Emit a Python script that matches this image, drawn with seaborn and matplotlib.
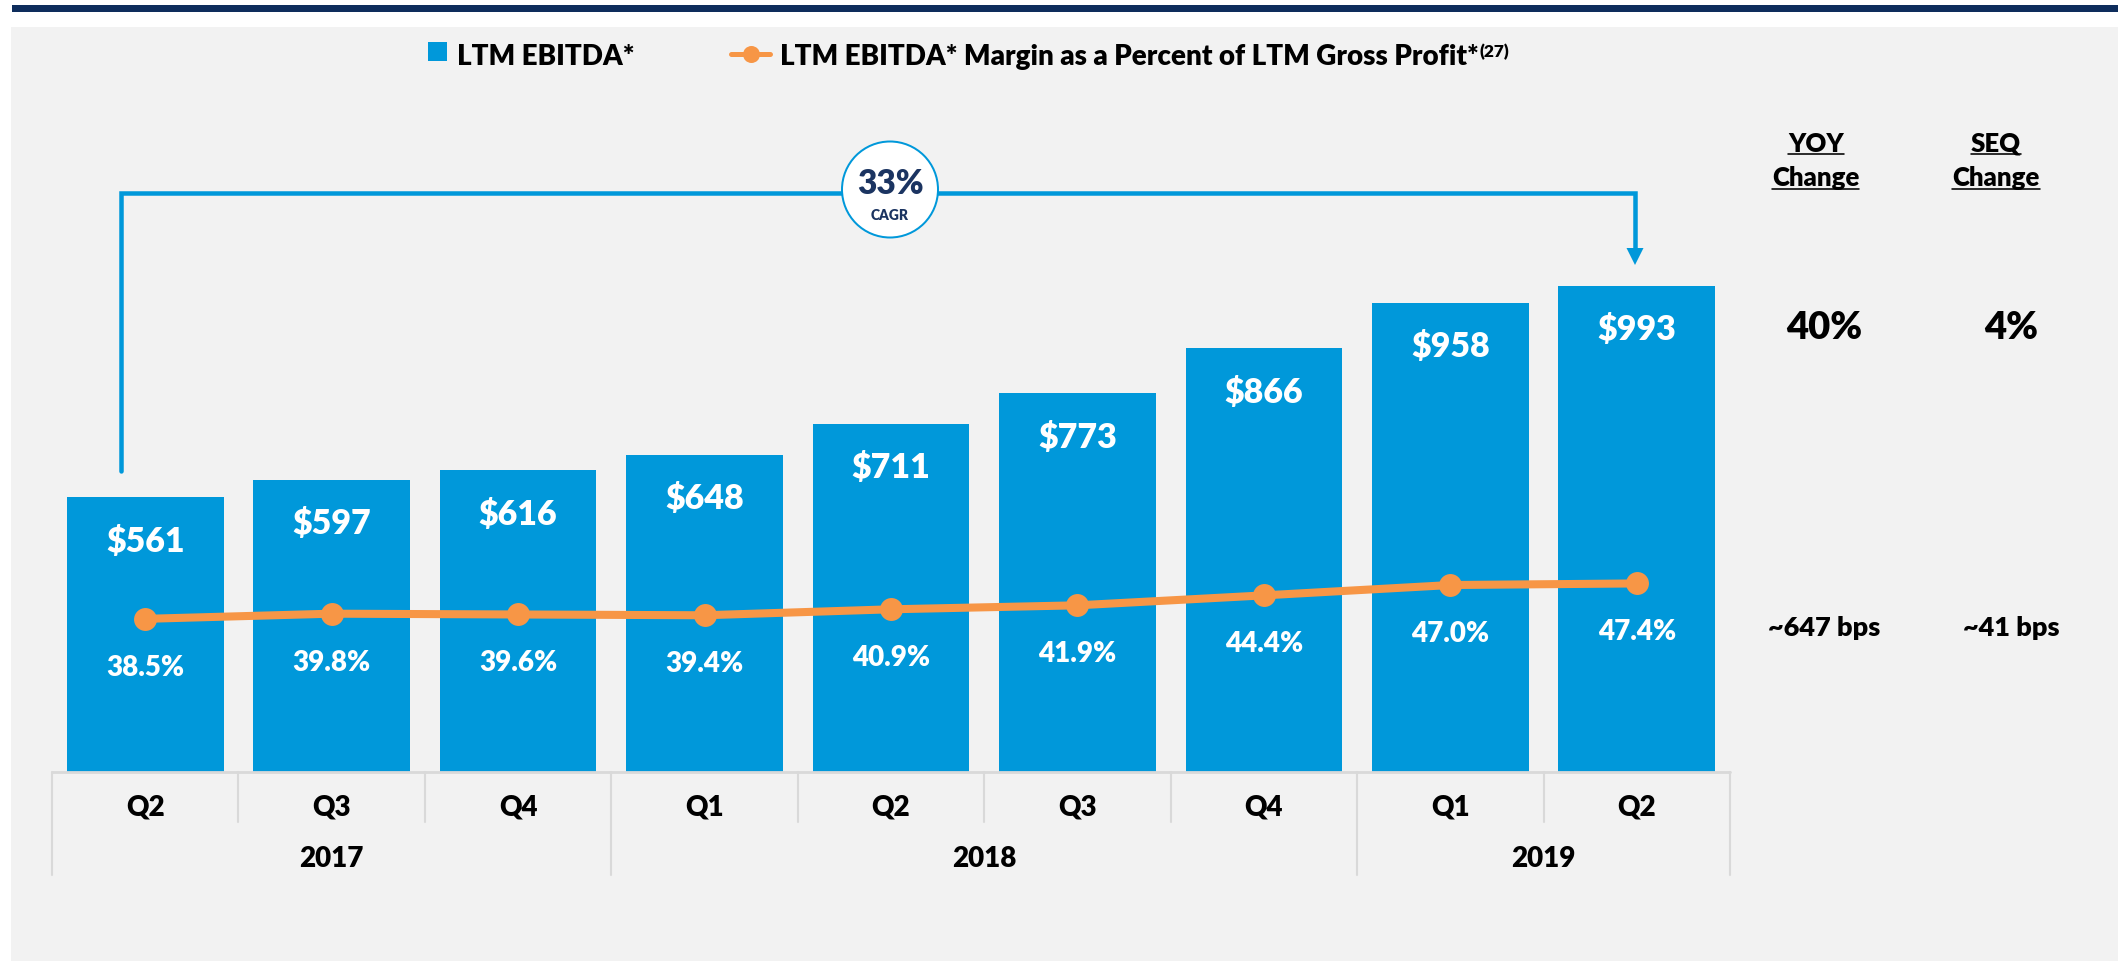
import matplotlib
matplotlib.use("Agg")
import matplotlib.pyplot as plt
import matplotlib.patches as mpatches
from matplotlib.transforms import Affine2D, blended_transform_factory
from matplotlib.lines import Line2D
import seaborn as sns
import pandas as pd

# ---------------- data ----------------
quarters = ["Q2", "Q3", "Q4", "Q1", "Q2", "Q3", "Q4", "Q1", "Q2"]
years = ["2017", "2017", "2017", "2018", "2018", "2018", "2018", "2019", "2019"]
ltm_ebitda = [561, 597, 616, 648, 711, 773, 866, 958, 993]
ebitda_margin = [38.5, 39.8, 39.6, 39.4, 40.9, 41.9, 44.4, 47.0, 47.4]
legend_labels = ["LTM EBITDA*", "LTM EBITDA* Margin as a Percent of LTM Gross Profit*"]
legend_sup = "(27)"
cagr_text = ["33%", "CAGR"]
change_headers = [("YOY", "Change"), ("SEQ", "Change")]
change_ebitda = ["40%", "4%"]
change_margin = ["~647 bps", "~41 bps"]

periods = [f"{q} {y}" for q, y in zip(quarters, years)]
df = pd.DataFrame({"period": periods, "quarter": quarters, "year": years,
                   "ebitda": ltm_ebitda, "margin": ebitda_margin})

# ---------------- style ----------------
sns.set_style("white")
plt.rcParams["font.family"] = ["Lato", "DejaVu Sans"]
FW = "heavy"
plt.rcParams["font.weight"] = FW

BLUE = "#0098da"
ORANGE = "#f79646"
NAVY = "#1b3461"
GRID = "#d9d9d9"
PANEL = "#f2f2f2"

W, H, DPI = 2118, 962, 100
fig = plt.figure(figsize=(W / DPI, H / DPI), dpi=DPI, facecolor="white")
PX = Affine2D().scale(1 / W, -1 / H).translate(0, 1) + fig.transFigure
PT = 72 / DPI  # points per pixel

# background
fig.add_artist(mpatches.Rectangle((11, 28), W - 11, H - 28, transform=PX,
                                  facecolor=PANEL, edgecolor="none", zorder=-10))
fig.add_artist(mpatches.Rectangle((12, 6), W - 12, 6.5, transform=PX,
                                  facecolor="#0e2d5c", edgecolor="none", zorder=-9))

# axes geometry (pixel layout)
AX_L, AX_R = 52, 1730
BASE = 773
PX_PER_USD = 0.4898
PX_PER_PCT = 3.978

ax = fig.add_axes([AX_L / W, 0, (AX_R - AX_L) / W, 1])
ax.set_facecolor("none")
sns.barplot(data=df, x="period", y="ebitda", order=periods, ax=ax, color=BLUE,
            saturation=1, width=0.84, linewidth=0, edgecolor="none")
ax2 = ax.twinx()
ax2.set_facecolor("none")
sns.pointplot(data=df, x="period", y="margin", order=periods, ax=ax2, color=ORANGE,
              markers="o", linestyles="-", errorbar=None, markersize=16.5,
              linewidth=5.8, markeredgewidth=0)

n = len(periods)
for a in (ax, ax2):
    a.set_xlim(-0.5, n - 0.5)
    a.set_axis_off()
ax.set_ylim(-(H - BASE) / PX_PER_USD, BASE / PX_PER_USD)
ax2.set_ylim(-(H - BASE) / PX_PER_PCT, BASE / PX_PER_PCT)

# value labels
for i, v in enumerate(df["ebitda"]):
    ax.annotate(f"${v:,.0f}", (i, v), xytext=(0, -53.7 * PT), textcoords="offset points",
                ha="center", va="baseline", color="white", fontsize=24.5,
                fontweight=FW, zorder=5)
for i, m in enumerate(df["margin"]):
    ax2.annotate(f"{m:.1f}%", (i, m), xytext=(0, -56 * PT), textcoords="offset points",
                 ha="center", va="baseline", color="white", fontsize=20,
                 fontweight=FW, zorder=5)

# two-level category axis
XB = blended_transform_factory(ax.transData, PX)
ax.add_line(Line2D([-0.5, n - 0.5], [BASE, BASE], transform=XB, color=GRID, lw=2.8 * PT,
                   clip_on=False))
for i in range(n + 1):
    long = i == 0 or i == n or years[i] != years[i - 1]
    ax.add_line(Line2D([i - 0.5, i - 0.5], [BASE, 876 if long else 823], transform=XB,
                       color=GRID, lw=1.5, clip_on=False))
for i, q in enumerate(quarters):
    ax.text(i, 816, q, transform=XB, ha="center", va="baseline", fontsize=20,
            fontweight=FW, color="black")
groups = []
for i, y in enumerate(years):
    if groups and groups[-1][0] == y:
        groups[-1][2] = i
    else:
        groups.append([y, i, i])
for y, s, e in groups:
    ax.text((s + e) / 2, 866.7, y, transform=XB, ha="center", va="baseline", fontsize=20,
            fontweight=FW, color="black")

# legend
fig.add_artist(mpatches.Rectangle((428, 43), 19, 19, transform=PX, facecolor=BLUE,
                                  edgecolor="none"))
fig.text(457, 65, legend_labels[0], transform=PX, ha="left", va="baseline", fontsize=20,
         fontweight=FW, color="black")
fig.add_artist(Line2D([731, 770], [55, 55], transform=PX, color=ORANGE, lw=5 * PT))
fig.add_artist(Line2D([750.5], [55], transform=PX, color=ORANGE, marker="o",
                      markersize=17 * PT, markeredgewidth=0, lw=0))
leg2 = fig.text(780, 65, legend_labels[1], transform=PX, ha="left", va="baseline",
                fontsize=20, fontweight=FW, color="black")

# CAGR bracket
lw_b = 4.5 * PT
fig.add_artist(Line2D([121, 121, 1635, 1635], [472, 194, 194, 252], transform=PX,
                      color=BLUE, lw=lw_b, solid_joinstyle="miter", zorder=5))
fig.add_artist(mpatches.Polygon([(1626.5, 249), (1643.5, 249), (1635, 266)], closed=True,
                                transform=PX, facecolor=BLUE, edgecolor="none", zorder=5))
fig.add_artist(mpatches.Circle((890, 190.5), 48, transform=PX, facecolor="white",
                               edgecolor=BLUE, lw=2 * PT, zorder=6))
fig.text(890, 194, cagr_text[0], transform=PX, ha="center", va="baseline", fontsize=24,
         fontweight=FW, color=NAVY, zorder=7)
fig.text(890, 220, cagr_text[1], transform=PX, ha="center", va="baseline", fontsize=10,
         fontweight=FW, color=NAVY, zorder=7)

# right-side change table
head_x = [1815.7, 1996]
val_x = [1824, 2011]
head_texts = []
for (h1, h2), hx in zip(change_headers, head_x):
    t1 = fig.text(hx, 151.7, h1, transform=PX, ha="center", va="baseline", fontsize=18.5,
                  fontweight=FW, color="black")
    t2 = fig.text(hx, 185.5, h2, transform=PX, ha="center", va="baseline", fontsize=18.5,
                  fontweight=FW, color="black")
    head_texts.append((t1, 154.5))
    head_texts.append((t2, 190))
for v, vx in zip(change_ebitda, val_x):
    fig.text(vx, 339.3, v, transform=PX, ha="center", va="baseline", fontsize=27.5,
             fontweight=FW, color="black")
for v, vx in zip(change_margin, val_x):
    fig.text(vx, 635.7, v, transform=PX, ha="center", va="baseline", fontsize=19.5,
             fontweight=FW, color="black")

# underlines and superscript need rendered extents
fig.canvas.draw()
r = fig.canvas.get_renderer()
XPX = blended_transform_factory(Affine2D(), PX)
for t, uy in head_texts:
    bb = t.get_window_extent(r)
    fig.add_artist(Line2D([bb.x0, bb.x1], [uy, uy], transform=XPX,
                          color="black", lw=1.6 * PT))
bb = leg2.get_window_extent(r)
fig.text(bb.x1 + 1, 57, legend_sup, transform=XPX, ha="left", va="baseline",
         fontsize=12.5, fontweight=FW, color="black")

fig.savefig("out.png", dpi=DPI, facecolor="white")
